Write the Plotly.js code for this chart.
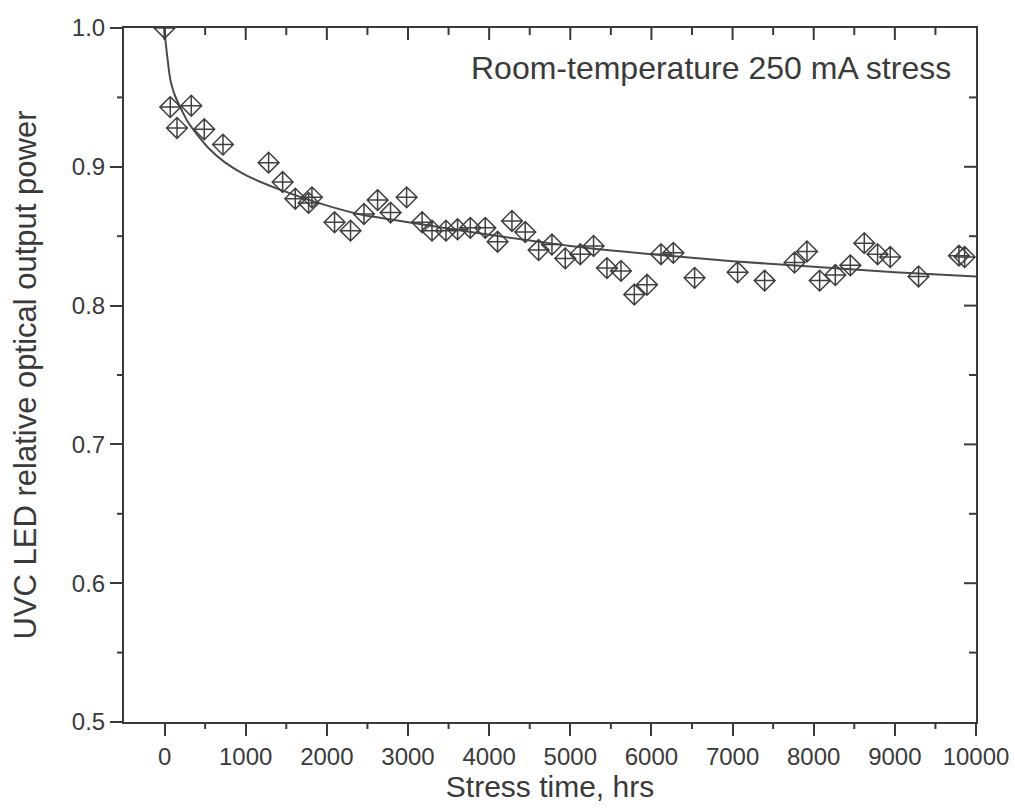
<!DOCTYPE html>
<html>
<head>
<meta charset="utf-8">
<script src="https://cdn.plot.ly/plotly-3.0.1.min.js"></script>
<style>html,body{margin:0;padding:0;background:#fff;}#chart{width:1015px;height:809px;}</style>
</head>
<body>
<div id="chart"></div>
<script>
// Measured data: stress time (hrs) and relative optical output power
const stressHours = [0, 70, 153, 329, 489, 720, 1282, 1455, 1611, 1775, 1816, 2095, 2292, 2457, 2625, 2785, 2983,
  3174, 3296, 3468, 3611, 3768, 3952, 4104, 4281, 4445, 4610, 4774, 4938, 5123, 5287, 5452, 5625, 5789, 5945,
  6118, 6270, 6532, 7062, 7395, 7764, 7917, 8073, 8266, 8451, 8623, 8787, 8943, 9292, 9790, 9860];
const relPower = [1.000, 0.943, 0.928, 0.944, 0.927, 0.916, 0.903, 0.889, 0.877, 0.874, 0.878, 0.860, 0.854, 0.866, 0.876, 0.867, 0.878,
  0.860, 0.854, 0.854, 0.855, 0.856, 0.856, 0.846, 0.861, 0.853, 0.840, 0.844, 0.834, 0.837, 0.843, 0.827, 0.825, 0.808, 0.815,
  0.837, 0.838, 0.820, 0.824, 0.818, 0.831, 0.839, 0.818, 0.822, 0.829, 0.845, 0.837, 0.835, 0.821, 0.836, 0.835];
// Fit curve
const fitHours = [0, 10, 30, 70, 123, 193, 280, 378, 550, 748, 1000, 1447, 1894, 2387, 3127, 4000, 5000, 6000, 7000, 8000, 9000, 10000];
const fitPower = [1.000, 0.992, 0.981, 0.963, 0.952, 0.943, 0.933, 0.925, 0.913, 0.903, 0.894, 0.883, 0.874, 0.866, 0.859, 0.851, 0.843, 0.837, 0.832, 0.828, 0.824, 0.821];
const xTickVals = [0, 1000, 2000, 3000, 4000, 5000, 6000, 7000, 8000, 9000, 10000];
const xTickText = ['0', '1000', '2000', '3000', '4000', '5000', '6000', '7000', '8000', '9000', '10000'];
const xMinorVals = [500, 1500, 2500, 3500, 4500, 5500, 6500, 7500, 8500, 9500];
const yTickVals = [0.5, 0.6, 0.7, 0.8, 0.9, 1.0];
const yTickText = ['0.5', '0.6', '0.7', '0.8', '0.9', '1.0'];
const yMinorVals = [0.55, 0.65, 0.75, 0.85, 0.95];

const ink = '#3a3a3a';
const fnt = 'Liberation Sans, Arial, sans-serif';
const xRange = [-500, 10000];
const yRange = [0.5, 1.0];

const W = 1015, H = 809;
const M = {l: 124, r: 39, t: 28, b: 87};
const plotW = W - M.l - M.r, plotH = H - M.t - M.b;
const majLen = 12, minLen = 7;

const traces = [
  {x: fitHours, y: fitPower, mode: 'lines',
   line: {color: '#4a4a4a', width: 2, shape: 'spline', smoothing: 0.6}, hoverinfo: 'skip', showlegend: false},
  {x: stressHours, y: relPower, mode: 'markers', showlegend: false,
   marker: {symbol: 'diamond-cross-open', size: 16, color: '#404040', line: {width: 1.5, color: '#404040'}}}
];

// Extra ticks (paper coordinates derived from the axis ranges): outward minor ticks on bottom/left,
// inward major+minor ticks on top/right
const px = v => (v - xRange[0]) / (xRange[1] - xRange[0]);
const py = v => (v - yRange[0]) / (yRange[1] - yRange[0]);
const shapes = [];
function xTick(v, yEdge, len) {
  const p = px(v);
  shapes.push({type: 'line', xref: 'paper', yref: 'paper', x0: p, x1: p, y0: yEdge, y1: yEdge + len / plotH,
               line: {color: ink, width: 2}});
}
function yTick(v, xEdge, len) {
  const p = py(v);
  shapes.push({type: 'line', xref: 'paper', yref: 'paper', x0: xEdge, x1: xEdge + len / plotW, y0: p, y1: p,
               line: {color: ink, width: 2}});
}
xMinorVals.forEach(v => xTick(v, 0, -minLen));
yMinorVals.forEach(v => yTick(v, 0, -minLen));
xTickVals.filter(v => v > xRange[0] && v < xRange[1]).forEach(v => xTick(v, 1, -majLen));
xMinorVals.forEach(v => xTick(v, 1, -minLen));
yTickVals.filter(v => v > yRange[0] && v < yRange[1]).forEach(v => yTick(v, 1, -majLen));
yMinorVals.forEach(v => yTick(v, 1, -minLen));

const axBase = {linecolor: ink, linewidth: 2, ticklen: majLen, tickwidth: 2, tickcolor: ink, showgrid: false, zeroline: false,
                showline: true, mirror: true, ticks: 'outside'};

const layout = {
  width: W, height: H,
  margin: M,
  paper_bgcolor: '#ffffff', plot_bgcolor: '#ffffff',
  font: {family: fnt, color: ink},
  xaxis: Object.assign({}, axBase, {
    range: xRange, tickvals: xTickVals, ticktext: xTickText,
    tickfont: {size: 24, color: ink, family: fnt},
    title: {text: 'Stress time, hrs', font: {size: 30, color: ink, family: fnt}, standoff: 6}
  }),
  yaxis: Object.assign({}, axBase, {
    range: yRange, tickvals: yTickVals, ticktext: yTickText,
    tickfont: {size: 24, color: ink, family: fnt},
    title: {text: 'UVC LED relative optical output power', font: {size: 31, color: ink, family: fnt}, standoff: 26}
  }),
  shapes: shapes,
  annotations: [{
    xref: 'paper', yref: 'paper', x: 0.973, y: 0.942, xanchor: 'right', yanchor: 'middle',
    text: 'Room-temperature 250 mA stress', showarrow: false,
    font: {size: 32, color: ink, family: fnt}
  }]
};

Plotly.newPlot('chart', traces, layout, {staticPlot: true, displayModeBar: false});
</script>
</body>
</html>
